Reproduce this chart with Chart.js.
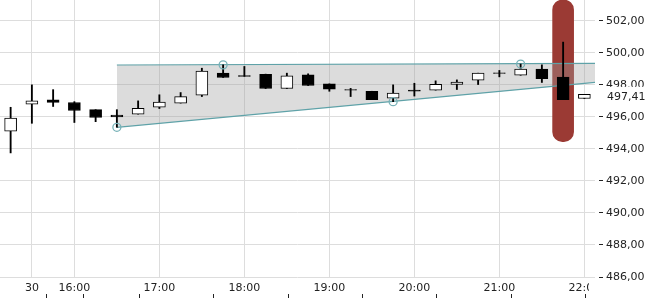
<!DOCTYPE html>
<html lang="de">
<head>
  <meta charset="UTF-8">
  <title>Kursverlauf 15 Min</title>
  <script src="https://cdn.jsdelivr.net/npm/chart.js"></script>
  <style>
    body {
      margin: 0;
      background: #fff;
    }
    #wrap {
      width: 650px;
      height: 300px;
    }
  </style>
</head>
<body>
  <div id="wrap"><canvas id="kurs"></canvas></div>

  <script>
    // 15-Minuten-Kerzen
    const times  = ['15:15','15:30','15:45','16:00','16:15','16:30','16:45','17:00','17:15','17:30','17:45','18:00','18:15','18:30',
                    '18:45','19:00','19:15','19:30','19:45','20:00','20:15','20:30','20:45','21:00','21:15','21:30','21:45','22:00'];
    const opens  = [495.10, 496.80, 497.06, 496.90, 496.45, 496.12, 496.17, 496.60, 496.86, 497.36, 498.73, 498.58, 498.65, 497.77,
                    498.63, 498.06, 497.71, 497.60, 497.17, 497.68, 497.67, 498.02, 498.29, 498.75, 498.60, 498.98, 498.48, 497.15];
    const highs  = [496.60, 498.00, 497.70, 496.95, 496.45, 496.45, 497.00, 497.38, 497.52, 499.04, 499.25, 499.15, 498.67, 498.73,
                    498.69, 498.06, 497.78, 497.60, 498.00, 498.10, 498.25, 498.31, 498.73, 498.90, 499.30, 499.25, 500.67, 497.41];
    const lows   = [493.75, 495.60, 496.65, 495.65, 495.70, 495.35, 496.17, 496.52, 496.86, 497.27, 498.46, 498.53, 497.77, 497.77,
                    497.96, 497.60, 497.27, 497.08, 496.95, 497.30, 497.67, 497.71, 498.02, 498.50, 498.60, 498.15, 497.08, 497.15];
    const closes = [495.92, 497.00, 496.90, 496.40, 495.96, 496.00, 496.54, 496.92, 497.27, 498.86, 498.46, 498.53, 497.77, 498.56,
                    497.96, 497.73, 497.67, 497.08, 497.48, 497.60, 498.04, 498.17, 498.73, 498.71, 498.98, 498.39, 497.08, 497.41];

    // Trendkanal (obere / untere Linie) und Wendepunkte
    const trendTimes  = ['16:30', '22:07.5'];
    const upperTrend  = [499.24, 499.34];
    const lowerTrend  = [495.35, 498.15];
    const pivotTimes  = ['16:30', '17:45', '19:45', '21:15'];
    const pivotValues = [495.35, 499.25, 496.95, 499.30];

    // markierte Kerze
    const highlightTime  = '21:45';
    const highlightRange = [494.45, 503.3];

    // Achsen
    const xRange      = ['15:07.5', '22:07.5'];
    const xTickTimes  = ['15:30','16:00','17:00','18:00','19:00','20:00','21:00','22:00'];
    const xTickLabels = ['30','16:00','17:00','18:00','19:00','20:00','21:00','22:00'];
    const yRange      = [486, 503.3];
    const yTicks      = [486, 488, 490, 492, 494, 496, 498, 500, 502];

    const toMin = t => {
      const [h, m] = t.split(':');
      return +h * 60 + parseFloat(m);
    };
    const fmt = v => v.toFixed(2).replace('.', ',');
    const candle = (a, b) => times.map((t, i) => ({ x: toMin(t), y: [a[i], b[i]] }));
    const line = vals => trendTimes.map((t, i) => ({ x: toMin(t), y: vals[i] }));

    const lastClose = closes[closes.length - 1];

    // Preisschild rechts + 22:00 am Rand abschneiden wie im Original
    const lastPricePlugin = {
      id: 'lastPrice',
      afterDraw(chart) {
        const { ctx, chartArea } = chart;
        const y = chart.scales.y.getPixelForValue(lastClose);
        ctx.save();
        ctx.fillStyle = '#fff';
        ctx.fillRect(chartArea.right - 6, chartArea.bottom + 5, chart.width, 12);
        ctx.fillRect(chartArea.right + 9, y - 7.5, chart.width, 20);
        ctx.fillStyle = '#222';
        ctx.font = '11px "DejaVu Sans"';
        ctx.textBaseline = 'middle';
        ctx.fillText(fmt(lastClose), chartArea.right + 12, y + 2.5);
        ctx.restore();
      }
    };

    Chart.defaults.font.family = '"DejaVu Sans", sans-serif';
    Chart.defaults.font.size = 11;
    Chart.defaults.color = '#222';

    new Chart(document.getElementById('kurs'), {
      type: 'bar',
      data: {
        datasets: [
          {
            data: [{ x: toMin(highlightTime), y: highlightRange }],
            backgroundColor: 'rgb(155, 58, 52)',
            barThickness: 21,
            borderRadius: 10,
            borderSkipped: false,
            grouped: false,
            order: 6
          },
          {
            type: 'line',
            data: line(upperTrend),
            borderColor: 'rgb(95, 162, 168)',
            borderWidth: 1.2,
            pointRadius: 0,
            order: 4
          },
          {
            type: 'line',
            data: line(lowerTrend),
            borderColor: 'rgb(95, 162, 168)',
            borderWidth: 1.2,
            pointRadius: 0,
            fill: '-1',
            backgroundColor: 'rgba(160, 160, 160, 0.37)',
            order: 5
          },
          {
            // Dochte
            data: candle(lows, highs),
            backgroundColor: '#000',
            barThickness: 1.2,
            grouped: false,
            order: 3
          },
          {
            // Kerzenkörper
            data: candle(opens, closes),
            backgroundColor: closes.map((c, i) => c > opens[i] ? '#fff' : '#000'),
            borderColor: '#000',
            borderWidth: 1,
            borderSkipped: false,
            barThickness: 12,
            grouped: false,
            order: 2
          },
          {
            type: 'line',
            data: pivotTimes.map((t, i) => ({ x: toMin(t), y: pivotValues[i] })),
            showLine: false,
            pointRadius: 4,
            pointBorderWidth: 1.3,
            pointBorderColor: 'rgb(120, 178, 184)',
            pointBackgroundColor: 'rgba(0,0,0,0)',
            order: 1
          }
        ]
      },
      options: {
        responsive: true,
        maintainAspectRatio: false,
        animation: false,
        layout: { padding: 0, autoPadding: false },
        plugins: {
          legend: { display: false },
          tooltip: { enabled: false }
        },
        scales: {
          x: {
            type: 'linear',
            position: 'bottom',
            weight: 0,
            min: toMin(xRange[0]),
            max: toMin(xRange[1]),
            offset: false,
            afterBuildTicks: s => { s.ticks = xTickTimes.map(t => ({ value: toMin(t) })); },
            afterFit: s => { s.height = 17; s.paddingLeft = 0; s.paddingRight = 0; },
            grid: { color: '#ddd', drawTicks: false, offset: false },
            border: { display: false },
            ticks: {
              autoSkip: false,
              maxRotation: 0,
              padding: 5,
              callback: (v, i) => xTickLabels[i]
            }
          },
          x2: {
            type: 'linear',
            axis: 'x',
            position: 'bottom',
            weight: 1,
            min: toMin(xRange[0]),
            max: toMin(xRange[1]),
            afterBuildTicks: s => { s.ticks = xTickTimes.map(t => ({ value: toMin(t) })); },
            afterFit: s => { s.height = 6; s.paddingLeft = 0; s.paddingRight = 0; },
            grid: { drawOnChartArea: false, tickLength: 4, tickColor: '#222' },
            border: { display: false },
            ticks: { display: false, autoSkip: false }
          },
          y: {
            position: 'right',
            min: yRange[0],
            max: yRange[1],
            afterBuildTicks: s => { s.ticks = yTicks.map(v => ({ value: v })); },
            afterFit: s => { s.width = 55; s.paddingTop = 0; s.paddingBottom = 0; },
            grid: {
              color: '#ddd',
              tickColor: '#222',
              tickLength: 8,
              tickBorderDash: [0, 4, 4, 50]
            },
            border: { display: false },
            ticks: {
              padding: 3,
              callback: v => fmt(v)
            }
          }
        }
      },
      plugins: [lastPricePlugin]
    });
  </script>
</body>
</html>
